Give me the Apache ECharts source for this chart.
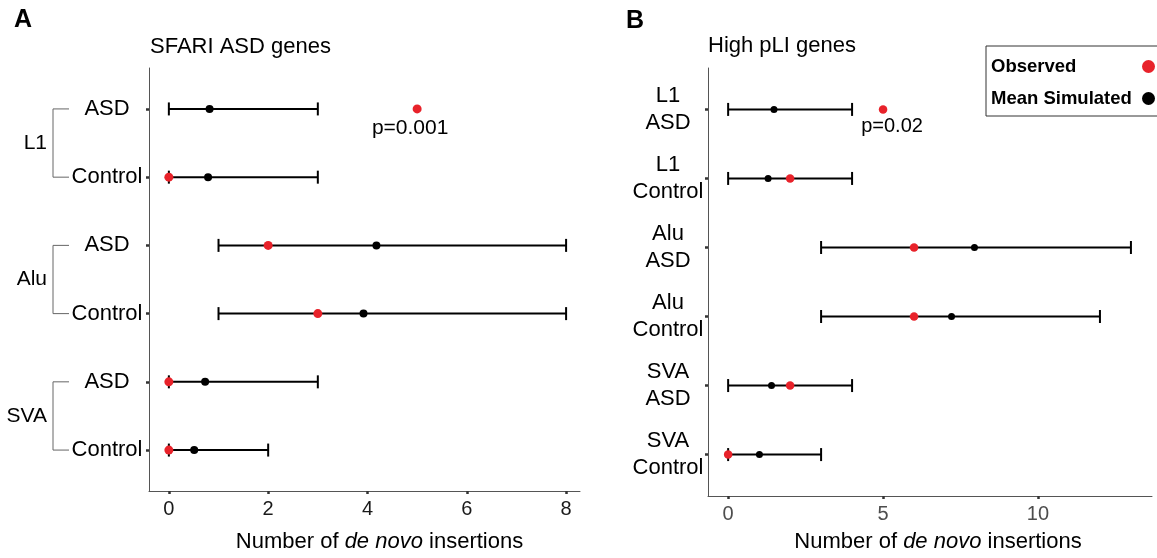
<!DOCTYPE html>
<html>
<head>
<meta charset="utf-8">
<script src="https://cdn.jsdelivr.net/npm/echarts@6/dist/echarts.min.js"></script>
<style>
  html, body { margin: 0; padding: 0; background: #fff; }
  #main { width: 1157px; height: 558px; }
</style>
</head>
<body>
<div id="main"></div>
<script>
"use strict";

// rows, top to bottom
var rowIdx = [0, 1, 2, 3, 4, 5];
var rowLabelsA = ["ASD", "Control", "ASD", "Control", "ASD", "Control"];
var groupNames = ["L1", "Alu", "SVA"];
var rowLabelsB = ["L1\nASD", "L1\nControl", "Alu\nASD", "Alu\nControl", "SVA\nASD", "SVA\nControl"];

// panel A - SFARI ASD genes
var lowA = [0, 0, 1, 1, 0, 0];
var highA = [3, 3, 8, 8, 3, 2];
var meanA = [0.82, 0.79, 4.18, 3.92, 0.73, 0.51];
var obsA = [5, 0, 2, 3, 0, 0];
var ticksA = [0, 2, 4, 6, 8];

// panel B - High pLI genes
var lowB = [0, 0, 3, 3, 0, 0];
var highB = [4, 4, 13, 12, 4, 3];
var meanB = [1.48, 1.29, 7.95, 7.21, 1.40, 1.01];
var obsB = [5, 2, 6, 6, 2, 0];
var ticksB = [0, 5, 10];

var pLabels = ["p=0.001", "p=0.02"];

var RED = "#e8222a";
var FONT = "Liberation Sans, Arial, sans-serif";

function errorBar(params, api) {
    var y = api.value(0);
    var p1 = api.coord([api.value(1), y]);
    var p2 = api.coord([api.value(2), y]);
    var h = 6.5;
    var st = { stroke: "#000", lineWidth: 2 };
    return {
        type: "group",
        children: [
            { type: "line", shape: { x1: p1[0], y1: p1[1], x2: p2[0], y2: p2[1] }, style: st },
            { type: "line", shape: { x1: p1[0], y1: p1[1] - h, x2: p1[0], y2: p1[1] + h }, style: st },
            { type: "line", shape: { x1: p2[0], y1: p2[1] - h, x2: p2[0], y2: p2[1] + h }, style: st }
        ]
    };
}

function barData(lo, hi) {
    return rowIdx.map(function (r) { return [r, lo[r], hi[r]]; });
}

function pointData(vals) {
    return rowIdx.map(function (r) { return [vals[r], r]; });
}

function yAxisFor(grid, labels, margin, lh) {
    return {
        type: "value",
        gridIndex: grid,
        min: -0.6,
        max: 5.6,
        inverse: true,
        splitLine: { show: false },
        axisLine: { show: true, onZero: false, lineStyle: { color: "#555", width: 1 } },
        axisTick: { show: true, customValues: rowIdx, length: 3, lineStyle: { color: "#333", width: 2.5 } },
        axisLabel: {
            customValues: rowIdx,
            formatter: function (v) { return labels[Math.round(v)]; },
            align: "center",
            margin: margin,
            fontFamily: FONT,
            fontSize: 22,
            lineHeight: lh,
            color: "#000"
        }
    };
}

function xAxisFor(grid, min, max, ticks, color, gap, shift) {
    return {
        type: "value",
        gridIndex: grid,
        min: min,
        max: max,
        splitLine: { show: false },
        axisLine: { show: true, onZero: false, lineStyle: { color: "#555", width: 1 } },
        axisTick: { show: true, customValues: ticks, length: 3, lineStyle: { color: "#333", width: 2.5 } },
        axisLabel: { customValues: ticks, fontFamily: FONT, fontSize: 20, color: color, margin: 8 },
        name: "Number of {i|de novo} insertions",
        nameLocation: "middle",
        nameGap: gap,
        nameTextStyle: {
            fontFamily: FONT,
            fontSize: 22,
            color: "#000",
            padding: [0, 0, 0, shift],
            rich: { i: { fontFamily: FONT, fontSize: 22, fontStyle: "italic", color: "#000" } }
        }
    };
}

var chart = echarts.init(document.getElementById("main"));

var option = {
    animation: false,
    backgroundColor: "#fff",
    title: [
        { text: "A", left: 14, top: 8, padding: 0, textStyle: { fontFamily: FONT, fontSize: 25, fontWeight: "bold", color: "#000" } },
        { text: "SFARI ASD genes", left: 150, top: 36, padding: 0, textStyle: { fontFamily: FONT, fontSize: 22, fontWeight: "normal", color: "#000" } },
        { text: "B", left: 626, top: 9, padding: 0, textStyle: { fontFamily: FONT, fontSize: 25, fontWeight: "bold", color: "#000" } },
        { text: "High pLI genes", left: 708, top: 35, padding: 0, textStyle: { fontFamily: FONT, fontSize: 22, fontWeight: "normal", color: "#000" } }
    ],
    legend: {
        data: ["Observed", "Mean Simulated"],
        orient: "vertical",
        left: 986,
        top: 46,
        align: "right",
        padding: [11, 12, 8, 5],
        itemGap: 13,
        itemWidth: 13,
        itemHeight: 13,
        borderColor: "#333",
        borderWidth: 1,
        selectedMode: false,
        formatter: function (name) { return "{a|" + name + "}"; },
        textStyle: {
            fontFamily: FONT, fontSize: 18.5, fontWeight: "bold", color: "#000",
            rich: { a: { width: 146, align: "left", fontFamily: FONT, fontSize: 18.5, fontWeight: "bold", color: "#000" } }
        }
    },
    grid: [
        { left: 149, top: 68, width: 431, height: 423 },
        { left: 708, top: 68, width: 444, height: 429 }
    ],
    xAxis: [
        xAxisFor(0, -0.4, 8.28, ticksA, "#1a1a1a", 40, 30),
        xAxisFor(1, -0.65, 13.68, ticksB, "#4d4d4d", 35, 16)
    ],
    yAxis: [
        yAxisFor(0, rowLabelsA, 42, 24),
        yAxisFor(1, rowLabelsB, 40, 27)
    ],
    series: [
        {
            type: "custom", name: "barsA", xAxisIndex: 0, yAxisIndex: 0,
            renderItem: errorBar, encode: { x: [1, 2], y: 0 }, data: barData(lowA, highA), z: 1
        },
        {
            type: "scatter", name: "Mean Simulated", xAxisIndex: 0, yAxisIndex: 0,
            symbolSize: 8, itemStyle: { color: "#000", opacity: 1 }, data: pointData(meanA), z: 2
        },
        {
            type: "scatter", name: "Observed", xAxisIndex: 0, yAxisIndex: 0,
            symbolSize: 9, itemStyle: { color: RED, opacity: 1 }, z: 3,
            data: pointData(obsA).map(function (d, i) {
                if (i !== 0) return d;
                return {
                    value: d,
                    label: { show: true, formatter: pLabels[0], position: "bottom", distance: 4, offset: [-7, 0],
                        fontFamily: FONT, fontSize: 21, color: "#000" }
                };
            })
        },
        {
            type: "custom", name: "barsB", xAxisIndex: 1, yAxisIndex: 1,
            renderItem: errorBar, encode: { x: [1, 2], y: 0 }, data: barData(lowB, highB), z: 1
        },
        {
            type: "scatter", name: "Mean Simulated", xAxisIndex: 1, yAxisIndex: 1,
            symbolSize: 7, itemStyle: { color: "#000", opacity: 1 }, data: pointData(meanB), z: 2
        },
        {
            type: "scatter", name: "Observed", xAxisIndex: 1, yAxisIndex: 1,
            symbolSize: 8.5, itemStyle: { color: RED, opacity: 1 }, z: 3,
            data: pointData(obsB).map(function (d, i) {
                if (i !== 0) return d;
                return {
                    value: d,
                    label: { show: true, formatter: pLabels[1], position: "bottom", distance: 3, offset: [9, 0],
                        fontFamily: FONT, fontSize: 20, color: "#000" }
                };
            })
        }
    ]
};

chart.setOption(option);

// group brackets on the left of panel A
var bx = 53, stub = 69;
var gfx = [];
groupNames.forEach(function (g, k) {
    var yTop = chart.convertToPixel({ gridIndex: 0 }, [0, rowIdx[k * 2]])[1];
    var yBot = chart.convertToPixel({ gridIndex: 0 }, [0, rowIdx[k * 2 + 1]])[1];
    gfx.push({
        type: "polyline",
        shape: { points: [[stub, yTop], [bx, yTop], [bx, yBot], [stub, yBot]] },
        style: { stroke: "#666", lineWidth: 1, fill: null }
    });
    gfx.push({
        type: "text",
        x: 47,
        y: (yTop + yBot) / 2,
        style: { text: g, fontFamily: FONT, fontSize: 21, fill: "#000", align: "right", verticalAlign: "middle" }
    });
});
chart.setOption({ graphic: gfx });
</script>
</body>
</html>
